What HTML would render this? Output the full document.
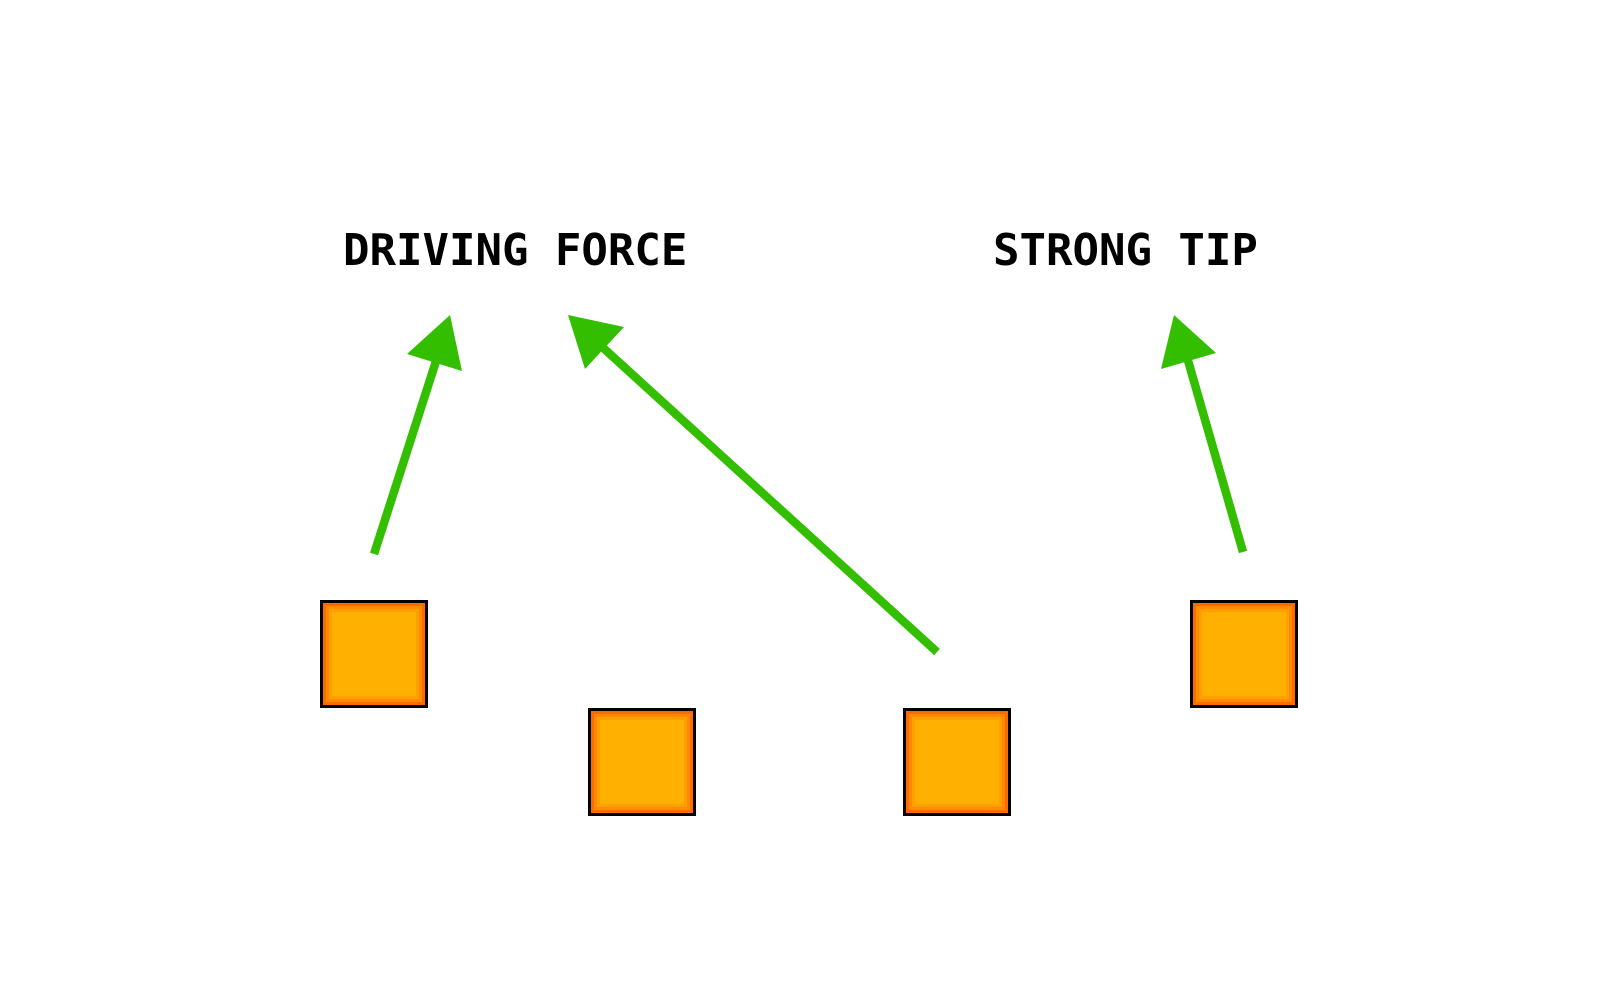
<!DOCTYPE html>
<html><head><style>
html,body{margin:0;padding:0;background:#fff;width:1618px;height:1000px;overflow:hidden}
</style></head><body>
<svg width="1618" height="1000" xmlns="http://www.w3.org/2000/svg">
<g font-family="'DejaVu Sans Mono','Liberation Mono',monospace" font-weight="bold" font-size="44" fill="#000">
<text x="343" y="265">DRIVING FORCE</text>
<text x="993" y="265">STRONG TIP</text>
</g>
<g stroke="#33bf00" stroke-width="8.5" fill="none">
<line x1="374" y1="554" x2="438" y2="355"/>
<line x1="937" y1="652" x2="600" y2="345"/>
<line x1="1243" y1="552" x2="1187" y2="357"/>
</g>
<g fill="#33bf00">
<polygon points="450,315 407,354 462,371"/>
<polygon points="568,315 585,369 624,327"/>
<polygon points="1174,315 1161,369 1216,353"/>
</g>
<g>
<g transform="translate(320,600)"><rect x="1.5" y="1.5" width="105" height="105" fill="#ff6a00" stroke="#000" stroke-width="3"/><rect x="6" y="6" width="96" height="96" fill="#ff8c00"/><rect x="9" y="9" width="90" height="90" fill="#ffa000"/><rect x="12" y="12" width="84" height="84" fill="#ffb000"/></g>
<g transform="translate(588,708)"><rect x="1.5" y="1.5" width="105" height="105" fill="#ff6a00" stroke="#000" stroke-width="3"/><rect x="6" y="6" width="96" height="96" fill="#ff8c00"/><rect x="9" y="9" width="90" height="90" fill="#ffa000"/><rect x="12" y="12" width="84" height="84" fill="#ffb000"/></g>
<g transform="translate(903,708)"><rect x="1.5" y="1.5" width="105" height="105" fill="#ff6a00" stroke="#000" stroke-width="3"/><rect x="6" y="6" width="96" height="96" fill="#ff8c00"/><rect x="9" y="9" width="90" height="90" fill="#ffa000"/><rect x="12" y="12" width="84" height="84" fill="#ffb000"/></g>
<g transform="translate(1190,600)"><rect x="1.5" y="1.5" width="105" height="105" fill="#ff6a00" stroke="#000" stroke-width="3"/><rect x="6" y="6" width="96" height="96" fill="#ff8c00"/><rect x="9" y="9" width="90" height="90" fill="#ffa000"/><rect x="12" y="12" width="84" height="84" fill="#ffb000"/></g>
</g>
</svg>
</body></html>
